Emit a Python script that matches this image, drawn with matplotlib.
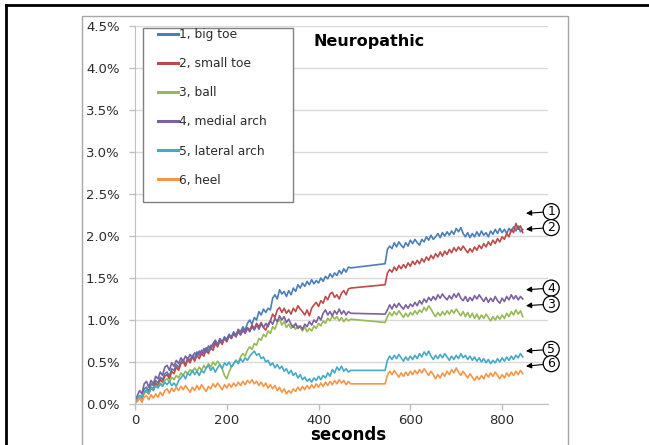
import matplotlib
matplotlib.use("Agg")
import matplotlib.pyplot as plt
import numpy as np
from matplotlib.lines import Line2D
from matplotlib.patches import Rectangle

plt.rcParams["font.family"] = "DejaVu Sans"

# sampling grid: every 5 s up to 470 s, a gap until 545 s, then every 5 s to 845 s
seconds = np.r_[np.arange(0, 475, 5), 545, np.arange(550, 850, 5)]

big_toe = [
    0.02, 0.06, 0.10, 0.08, 0.18, 0.20, 0.15, 0.24, 0.22, 0.28, 0.25, 0.32, 0.29, 0.36, 0.38, 0.33,
    0.42, 0.40, 0.47, 0.43, 0.50, 0.53, 0.47, 0.55, 0.52, 0.58, 0.54, 0.62, 0.58, 0.64, 0.60, 0.67,
    0.63, 0.70, 0.68, 0.75, 0.71, 0.78, 0.74, 0.80, 0.77, 0.83, 0.80, 0.86, 0.82, 0.89, 0.86, 0.92,
    0.88, 0.96, 1.00, 0.95, 1.03, 1.00, 1.10, 1.06, 1.13, 1.09, 1.14, 1.12, 1.26, 1.30, 1.25, 1.36,
    1.31, 1.34, 1.28, 1.35, 1.30, 1.38, 1.34, 1.42, 1.38, 1.44, 1.40, 1.46, 1.42, 1.48, 1.43, 1.47,
    1.44, 1.50, 1.46, 1.52, 1.49, 1.55, 1.51, 1.56, 1.53, 1.59, 1.55, 1.61, 1.57, 1.63, 1.62,
    1.67,
    1.84, 1.88, 1.85, 1.92, 1.87, 1.93, 1.89, 1.86, 1.92, 1.88, 1.95, 1.91, 1.96, 1.92, 1.89, 1.96,
    1.93, 1.99, 1.95, 2.01, 1.96, 1.99, 2.03, 1.98, 2.04, 2.00, 2.05, 2.01, 2.06, 2.02, 2.09, 2.05,
    2.10, 2.03, 1.99, 2.04, 1.98, 2.03, 1.99, 2.05, 2.00, 2.06, 2.01, 2.04, 1.99, 2.06, 2.02, 2.08,
    2.03, 2.09, 2.04, 2.08, 2.03, 2.09, 2.05, 2.11, 2.06, 2.12, 2.05, 2.08,
]
small_toe = [
    0.01, 0.04, 0.08, 0.06, 0.13, 0.15, 0.12, 0.20, 0.18, 0.25, 0.22, 0.29, 0.26, 0.33, 0.35, 0.30,
    0.39, 0.36, 0.44, 0.40, 0.48, 0.50, 0.45, 0.53, 0.49, 0.56, 0.51, 0.58, 0.54, 0.60, 0.57, 0.64,
    0.60, 0.67, 0.64, 0.72, 0.68, 0.75, 0.71, 0.78, 0.74, 0.81, 0.78, 0.84, 0.80, 0.87, 0.83, 0.89,
    0.85, 0.91, 0.88, 0.94, 0.90, 0.96, 0.92, 0.97, 0.91, 0.88, 0.95, 0.99, 1.07, 1.03, 1.12, 1.15,
    1.09, 1.14, 1.08, 1.12, 1.07, 1.14, 1.10, 1.17, 1.13, 1.10, 1.06, 1.12, 1.05, 1.14, 1.18, 1.21,
    1.16, 1.23, 1.20, 1.28, 1.24, 1.31, 1.33, 1.27, 1.30, 1.25, 1.32, 1.35, 1.30, 1.37, 1.38,
    1.42,
    1.56, 1.60, 1.57, 1.63, 1.59, 1.65, 1.61, 1.66, 1.62, 1.68, 1.64, 1.70, 1.66, 1.71, 1.67, 1.73,
    1.69, 1.75, 1.71, 1.77, 1.73, 1.79, 1.75, 1.81, 1.76, 1.82, 1.78, 1.84, 1.80, 1.86, 1.82, 1.87,
    1.83, 1.88, 1.84, 1.80, 1.85, 1.81, 1.87, 1.83, 1.89, 1.85, 1.91, 1.87, 1.93, 1.89, 1.95, 1.91,
    1.97, 1.93, 1.99, 1.96, 2.03, 1.99, 2.08, 2.04, 2.15, 2.08, 2.12, 2.04,
]
ball = [
    0.01, 0.05, 0.09, 0.07, 0.13, 0.15, 0.12, 0.19, 0.16, 0.22, 0.20, 0.25, 0.22, 0.28, 0.30, 0.26,
    0.32, 0.29, 0.34, 0.31, 0.37, 0.34, 0.39, 0.36, 0.41, 0.38, 0.43, 0.39, 0.44, 0.40, 0.46, 0.42,
    0.48, 0.44, 0.50, 0.46, 0.51, 0.47, 0.42, 0.34, 0.30, 0.38, 0.44, 0.48, 0.52, 0.49, 0.56, 0.60,
    0.57, 0.64, 0.68, 0.65, 0.72, 0.70, 0.78, 0.76, 0.83, 0.80, 0.87, 0.84, 0.92, 0.89, 0.97, 1.01,
    0.94, 0.98, 0.91, 0.95, 0.90, 0.94, 0.89, 0.93, 0.91, 0.87, 0.92, 0.86, 0.90, 0.87, 0.93, 0.90,
    0.96, 0.93, 0.99, 0.96, 1.02, 0.99, 1.05, 1.01, 1.04, 0.99, 1.03, 0.98, 1.02, 0.99, 1.01,
    0.97,
    1.04, 1.09, 1.05, 1.10, 1.06, 1.11, 1.07, 1.03, 1.08, 1.04, 1.09, 1.06, 1.11, 1.07, 1.12, 1.09,
    1.15, 1.11, 1.17, 1.13, 1.08, 1.04, 1.09, 1.05, 1.10, 1.06, 1.11, 1.07, 1.12, 1.08, 1.13, 1.09,
    1.05, 1.10, 1.04, 1.09, 1.03, 1.08, 1.02, 1.07, 1.01, 1.06, 1.02, 1.07, 1.03, 0.99, 1.04, 1.00,
    1.05, 1.01, 1.06, 1.02, 1.08, 1.04, 1.10, 1.06, 1.12, 1.07, 1.11, 1.04,
]
medial_arch = [
    0.03, 0.10, 0.16, 0.12, 0.24, 0.27, 0.20, 0.28, 0.24, 0.33, 0.30, 0.38, 0.34, 0.44, 0.46, 0.40,
    0.49, 0.45, 0.52, 0.48, 0.55, 0.51, 0.57, 0.53, 0.59, 0.55, 0.61, 0.57, 0.63, 0.59, 0.66, 0.62,
    0.69, 0.65, 0.72, 0.76, 0.70, 0.77, 0.73, 0.79, 0.75, 0.82, 0.78, 0.84, 0.80, 0.86, 0.82, 0.88,
    0.84, 0.90, 0.86, 0.92, 0.88, 0.94, 0.89, 0.95, 0.91, 0.96, 0.92, 0.99, 0.95, 1.02, 0.98, 1.05,
    1.00, 1.04, 0.97, 1.01, 0.95, 0.91, 0.96, 0.90, 0.93, 0.89, 0.95, 0.92, 0.98, 0.94, 1.00, 0.97,
    1.04, 1.00, 1.08, 1.12, 1.06, 1.10, 1.05, 1.11, 1.07, 1.13, 1.07, 1.11, 1.06, 1.10, 1.08,
    1.07,
    1.12, 1.18, 1.13, 1.19, 1.15, 1.20, 1.16, 1.13, 1.18, 1.14, 1.19, 1.16, 1.21, 1.17, 1.23, 1.19,
    1.25, 1.21, 1.27, 1.23, 1.28, 1.24, 1.30, 1.26, 1.31, 1.27, 1.24, 1.29, 1.25, 1.31, 1.27, 1.32,
    1.26, 1.23, 1.28, 1.22, 1.27, 1.23, 1.29, 1.25, 1.30, 1.26, 1.22, 1.27, 1.21, 1.26, 1.22, 1.28,
    1.23, 1.20, 1.26, 1.22, 1.28, 1.24, 1.30, 1.25, 1.29, 1.24, 1.28, 1.25,
]
lateral_arch = [
    0.02, 0.06, 0.10, 0.08, 0.14, 0.17, 0.13, 0.19, 0.16, 0.22, 0.19, 0.24, 0.21, 0.26, 0.23, 0.27,
    0.22, 0.25, 0.21, 0.28, 0.31, 0.35, 0.30, 0.37, 0.34, 0.40, 0.35, 0.39, 0.34, 0.40, 0.37, 0.43,
    0.46, 0.40, 0.44, 0.38, 0.43, 0.47, 0.42, 0.49, 0.46, 0.50, 0.44, 0.48, 0.52, 0.48, 0.54, 0.50,
    0.55, 0.52, 0.57, 0.60, 0.63, 0.58, 0.60, 0.54, 0.56, 0.50, 0.52, 0.46, 0.49, 0.43, 0.47, 0.42,
    0.45, 0.39, 0.42, 0.36, 0.40, 0.34, 0.37, 0.31, 0.35, 0.29, 0.32, 0.27, 0.30, 0.26, 0.31, 0.28,
    0.33, 0.29, 0.34, 0.31, 0.37, 0.33, 0.41, 0.37, 0.44, 0.40, 0.45, 0.39, 0.42, 0.38, 0.40,
    0.40,
    0.52, 0.57, 0.53, 0.58, 0.54, 0.59, 0.55, 0.51, 0.56, 0.52, 0.57, 0.53, 0.58, 0.54, 0.60, 0.56,
    0.62, 0.58, 0.63, 0.57, 0.53, 0.58, 0.54, 0.59, 0.55, 0.60, 0.56, 0.52, 0.57, 0.53, 0.58, 0.54,
    0.60, 0.55, 0.58, 0.53, 0.57, 0.52, 0.56, 0.51, 0.55, 0.50, 0.54, 0.49, 0.53, 0.48, 0.52, 0.49,
    0.54, 0.50, 0.55, 0.51, 0.56, 0.52, 0.57, 0.53, 0.58, 0.55, 0.60, 0.56,
]
heel = [
    0.01, 0.03, 0.07, 0.02, 0.08, 0.10, 0.05, 0.11, 0.07, 0.12, 0.08, 0.14, 0.10, 0.16, 0.18, 0.13,
    0.19, 0.15, 0.20, 0.16, 0.21, 0.17, 0.22, 0.18, 0.14, 0.20, 0.16, 0.22, 0.17, 0.23, 0.19, 0.15,
    0.21, 0.18, 0.24, 0.20, 0.25, 0.21, 0.17, 0.23, 0.19, 0.24, 0.20, 0.25, 0.21, 0.26, 0.22, 0.27,
    0.23, 0.28, 0.25, 0.29, 0.24, 0.27, 0.22, 0.26, 0.21, 0.25, 0.19, 0.23, 0.18, 0.22, 0.16, 0.20,
    0.14, 0.18, 0.12, 0.16, 0.13, 0.18, 0.15, 0.20, 0.16, 0.21, 0.17, 0.22, 0.18, 0.23, 0.19, 0.24,
    0.20, 0.25, 0.21, 0.26, 0.22, 0.27, 0.23, 0.28, 0.24, 0.29, 0.25, 0.28, 0.23, 0.27, 0.24,
    0.24,
    0.34, 0.39, 0.35, 0.40, 0.36, 0.32, 0.37, 0.33, 0.38, 0.34, 0.39, 0.35, 0.40, 0.36, 0.41, 0.37,
    0.42, 0.38, 0.34, 0.39, 0.35, 0.30, 0.35, 0.31, 0.37, 0.33, 0.39, 0.35, 0.41, 0.37, 0.43, 0.38,
    0.34, 0.39, 0.35, 0.31, 0.36, 0.32, 0.28, 0.33, 0.29, 0.34, 0.30, 0.36, 0.32, 0.37, 0.33, 0.38,
    0.34, 0.30, 0.35, 0.31, 0.37, 0.33, 0.38, 0.34, 0.39, 0.35, 0.40, 0.36,
]

series = [
    ("1, big toe", big_toe, "#4A7EBB"),
    ("2, small toe", small_toe, "#BE4B48"),
    ("3, ball", ball, "#98B954"),
    ("4, medial arch", medial_arch, "#7D60A0"),
    ("5, lateral arch", lateral_arch, "#46AAC5"),
    ("6, heel", heel, "#F79646"),
]

# circled labels at the right end: (label, circle y, arrow tip y) in %
markers = [("1", 2.29, 2.27), ("2", 2.10, 2.08), ("4", 1.38, 1.36),
           ("3", 1.19, 1.17), ("5", 0.65, 0.63), ("6", 0.48, 0.45)]

TXT, GRID, AXC = "#2b2b2b", "#D9D9D9", "#BFBFBF"

fig = plt.figure(figsize=(6.49, 4.45), dpi=100, facecolor="white")
ax = fig.add_axes([135 / 649, 41 / 445, 413 / 649, 378 / 445])

for name, vals, col in series:
    assert len(vals) == len(seconds), name
    ax.plot(seconds, vals, color=col, lw=1.2, label=name)

ax.set_xlim(0, 900)
ax.set_ylim(0, 4.5)
ax.set_xticks([0, 200, 400, 600, 800])
ax.set_yticks(np.arange(0, 4.51, 0.5))
ax.set_yticklabels([f"{v:.1f}%" for v in np.arange(0, 4.51, 0.5)])
ax.grid(axis="y", color=GRID, lw=1)
ax.set_axisbelow(True)
for s in ["top", "right"]:
    ax.spines[s].set_visible(False)
for s in ["left", "bottom"]:
    ax.spines[s].set_color(AXC)
ax.tick_params(axis="both", colors=AXC, labelcolor=TXT, labelsize=9.5, length=4, width=1)
ax.tick_params(axis="y", pad=7)
ax.tick_params(axis="x", pad=3)
ax.set_xlabel("seconds", fontsize=12, fontweight="bold", color="black")
ax.xaxis.set_label_coords(0.515, -0.058)

ax.text(510, 4.31, "Neuropathic", fontsize=11.5, fontweight="bold", ha="center", va="center")

for lab, yc, yt in markers:
    ax.annotate(lab, xy=(852, yt), xytext=(907, yc), textcoords="data",
                ha="center", va="center", fontsize=9, annotation_clip=False,
                bbox=dict(boxstyle="circle,pad=0.12", fc="white", ec="black", lw=0.9),
                arrowprops=dict(arrowstyle="-|>", color="black", lw=0.8,
                                mutation_scale=8, shrinkA=0, shrinkB=0))

# legend: own frame box, entries without frame
fig.patches.append(Rectangle((143 / 649, 1 - 202 / 445), 150 / 649, 174 / 445,
                             transform=fig.transFigure, fc="white", ec="#808080", lw=1))
handles = [Line2D([], [], color=c, lw=2.2) for _, _, c in series]
leg = fig.legend(handles, [n for n, _, _ in series], loc="upper left",
                 bbox_to_anchor=(158 / 649, 1 - 28 / 445), frameon=False,
                 fontsize=8.8, handlelength=1.6, handletextpad=0.1,
                 labelspacing=1.32, borderaxespad=0, borderpad=0)
for t in leg.get_texts():
    t.set_color(TXT)

# inner grey frame and outer black frame of the figure panel
fig.patches.append(Rectangle((82 / 649, -0.05), 486 / 649, 1.05 - 16 / 445,
                             transform=fig.transFigure, fill=False, ec="#A6A6A6", lw=1))
fig.lines.append(Line2D([6 / 649, 6 / 649], [0, 1 - 5 / 445], transform=fig.transFigure,
                        color="black", lw=2))
fig.lines.append(Line2D([6 / 649, 1], [1 - 5 / 445, 1 - 5 / 445], transform=fig.transFigure,
                        color="black", lw=2))

fig.savefig("out.png", dpi=100, facecolor="white")
